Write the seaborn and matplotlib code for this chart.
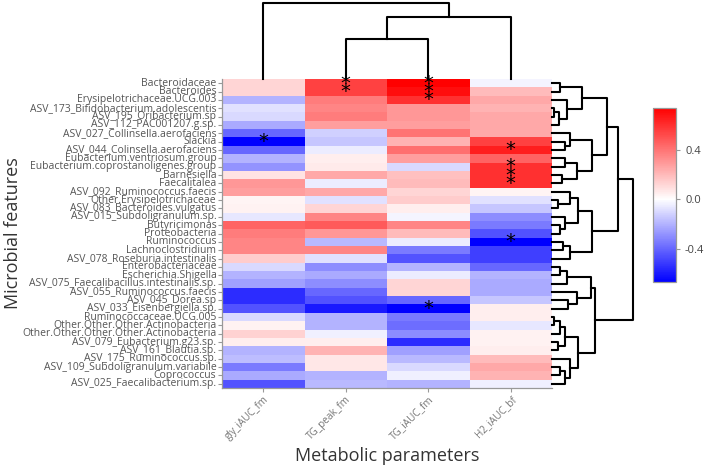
import numpy as np
import pandas as pd
import seaborn as sns
import matplotlib.pyplot as plt
from matplotlib.colors import LinearSegmentedColormap

# --- data ---
features = [
    "Bacteroidaceae", "Bacteroides", "Erysipelotrichaceae.UCG.003",
    "ASV_173_Bifidobacterium.adolescentis", "ASV_195_Oribacterium.sp",
    "ASV_112_PAC001207.g.sp.", "ASV_027_Collinsella.aerofaciens", "Slackia",
    "ASV_044_Colinsella.aerofaciens", "Eubacterium.ventriosum.group",
    "Eubacterium.coprostanoligenes.group", "Barnesiella", "Faecalitalea",
    "ASV_092_Ruminococcus.faecis", "Other.Erysipelotrichaceae",
    "ASV_083_Bacteroides.vulgatus", "ASV_015_Subdoligranulum.sp.",
    "Butyricimonas", "Proteobacteria", "Ruminococcus", "Lachnoclostridium",
    "ASV_078_Roseburia.intestinalis", "Enterobacteriaceae",
    "Escherichia.Shigella", "ASV_075_Faecalibacillus.intestinalis.sp.",
    "ASV_055_Ruminococcus.faecis", "ASV_045_Dorea.sp",
    "ASV_033_Eisenbergiella.sp.", "Ruminococcaceae.UCG.005",
    "Other.Other.Other.Actinobacteria", "Other.Other.Other.Other.Actinobacteria",
    "ASV_079_Eubacterium.g23.sp.", "ASV_161_Blautia.sp.",
    "ASV_175_Ruminococcus.sp.", "ASV_109_Subdoligranulum.variabile",
    "Coprococcus", "ASV_025_Faecalibacterium.sp.",
]
params = ["gly_iAUC_fm", "TG_peak_fm", "TG_iAUC_fm", "H2_iAUC_bf"]

gly_iauc_fm = [0.12, 0.12, -0.20, -0.08, -0.10, -0.22, -0.40, -0.67, -0.40, -0.20,
               -0.28, 0.08, 0.30, 0.28, 0.03, 0.04, -0.06, 0.45, 0.38, 0.35,
               0.35, 0.15, -0.10, -0.20, -0.25, -0.55, -0.55, -0.45, -0.10, 0.04,
               0.13, 0.05, -0.20, -0.17, -0.35, -0.22, -0.45]
tg_peak_fm = [0.55, 0.55, 0.38, 0.35, 0.38, 0.28, -0.12, -0.15, -0.05, 0.05,
              0.06, 0.25, -0.05, 0.25, -0.08, 0.12, 0.35, 0.48, 0.30, -0.18,
              0.35, -0.08, -0.30, -0.22, -0.30, -0.40, -0.45, -0.60, -0.20, -0.20,
              -0.04, 0.05, 0.22, 0.07, 0.07, -0.20, -0.18]
tg_iauc_fm = [0.74, 0.70, 0.60, 0.30, 0.30, 0.28, 0.40, 0.22, 0.42, 0.28,
              -0.10, 0.18, 0.20, 0.12, 0.15, 0.05, -0.03, 0.35, 0.20, -0.05,
              -0.35, -0.45, -0.20, -0.05, 0.12, 0.12, -0.40, -0.67, -0.35, -0.38,
              -0.30, -0.55, -0.25, -0.18, -0.10, -0.04, -0.20]
h2_iauc_bf = [-0.03, 0.20, 0.25, 0.22, 0.25, 0.25, 0.25, 0.55, 0.65, 0.45,
              0.60, 0.60, 0.60, 0.03, -0.08, -0.15, -0.30, -0.35, -0.45, -0.67,
              -0.50, -0.50, -0.40, -0.20, -0.22, -0.22, -0.15, 0.05, 0.05, -0.06,
              0.04, 0.04, 0.05, 0.20, 0.25, 0.22, -0.04]

# significant cells (row, column)
sig_cells = [(0, 1), (1, 1), (0, 2), (1, 2), (2, 2), (7, 0),
             (8, 3), (10, 3), (11, 3), (12, 3), (19, 3), (27, 2)]

# dendrogram merges: (child a, child b, height); new node ids start at n
row_links = [
    (0, 1, 0.10), (3, 4, 0.02), (38, 5, 0.09), (2, 39, 0.19), (37, 40, 0.37),
    (7, 8, 0.16), (6, 42, 0.22), (9, 10, 0.16), (11, 12, 0.12), (44, 45, 0.31),
    (43, 46, 0.49), (41, 47, 0.68),
    (14, 15, 0.07), (13, 49, 0.22), (17, 18, 0.10), (16, 51, 0.16), (50, 52, 0.32),
    (19, 20, 0.14), (54, 21, 0.22), (53, 55, 0.49), (48, 56, 0.81),
    (22, 23, 0.10), (58, 24, 0.18), (26, 27, 0.20), (25, 60, 0.31), (59, 61, 0.48),
    (28, 29, 0.03), (63, 30, 0.10), (31, 32, 0.08), (64, 65, 0.16),
    (34, 35, 0.10), (67, 36, 0.16), (33, 68, 0.22), (66, 69, 0.32),
    (62, 70, 0.53), (57, 71, 1.00),
]
col_links = [(1, 2, 0.526), (4, 3, 0.816), (0, 5, 1.0)]

vmin, vmax = -0.67, 0.74

# --- styling ---
plt.rcParams["font.family"] = ["Open Sans", "DejaVu Sans"]
plt.rcParams["axes.unicode_minus"] = False

df = pd.DataFrame({"gly_iAUC_fm": gly_iauc_fm, "TG_peak_fm": tg_peak_fm,
                   "TG_iAUC_fm": tg_iauc_fm, "H2_iAUC_bf": h2_iauc_bf},
                  index=features)[params]

stars = np.full(df.shape, "", dtype=object)
for r, c in sig_cells:
    stars[r, c] = "*"

mid = (0 - vmin) / (vmax - vmin)
cmap = LinearSegmentedColormap.from_list(
    "bwr_mid", [(0, "#0000ff"), (mid, "#ffffff"), (1, "#ff0000")])

W, H = 708, 470
fig = plt.figure(figsize=(W / 100, H / 100), dpi=100)


def box(x0, y0, x1, y1):
    return [x0 / W, 1 - y1 / H, (x1 - x0) / W, (y1 - y0) / H]


ax = fig.add_axes(box(222, 79, 552, 388))
ax_row = fig.add_axes(box(552, 79, 636, 388))
ax_col = fig.add_axes(box(222, 2, 552, 79))
cax = fig.add_axes(box(653, 108, 676, 282))

sns.heatmap(df, ax=ax, cmap=cmap, vmin=vmin, vmax=vmax, cbar_ax=cax,
            cbar_kws={"ticks": [-0.4, 0.0, 0.4], "format": "%.1f"},
            annot=stars, fmt="", annot_kws={"color": "black", "fontsize": 14,
                                            "family": "DejaVu Sans"},
            xticklabels=params, yticklabels=features)

ax.set_yticklabels(features, rotation=0, fontsize=7.5, color="#555555")
ax.set_xticklabels(params, rotation=45, ha="right", rotation_mode="anchor",
                   fontsize=7.2, color="#777777")
ax.tick_params(axis="both", length=3, width=0.8, color="#999999", pad=1)
for side in ["left", "bottom"]:
    ax.spines[side].set_visible(True)
    ax.spines[side].set_color("#999999")
    ax.spines[side].set_linewidth(0.9)

ax.set_xlabel("Metabolic parameters", fontsize=13, color="#333333")
ax.set_ylabel("Microbial features", fontsize=13, color="#333333")
ax.xaxis.set_label_coords(0.5, -0.19)
ax.yaxis.set_label_coords(-0.605, 0.5)

# colorbar
cax.tick_params(labelsize=8, length=3, color="#999999", labelcolor="#444444")
cbar = ax.collections[0].colorbar
cbar.outline.set_edgecolor("#999999")
cbar.outline.set_linewidth(0.9)


def dendro_segments(links, n):
    pos = {i: i + 0.5 for i in range(n)}
    hgt = {i: 0.0 for i in range(n)}
    segs = []
    for k, (a, b, h) in enumerate(links):
        segs.append(([hgt[a], h, h, hgt[b]], [pos[a], pos[a], pos[b], pos[b]]))
        pos[n + k] = (pos[a] + pos[b]) / 2
        hgt[n + k] = h
    return segs


# right (row) dendrogram
for hs, ps in dendro_segments(row_links, len(features)):
    ax_row.plot(hs, ps, color="black", lw=1.5, clip_on=False)
ax_row.set_ylim(len(features), 0)
ax_row.set_xlim(0, 84 / 81)
ax_row.axis("off")

# top (column) dendrogram
for hs, ps in dendro_segments(col_links, len(params)):
    ax_col.plot(ps, hs, color="black", lw=1.5, clip_on=False)
ax_col.set_xlim(0, len(params))
ax_col.set_ylim(0, 77 / 76)
ax_col.axis("off")

fig.savefig("out.png", dpi=100)
